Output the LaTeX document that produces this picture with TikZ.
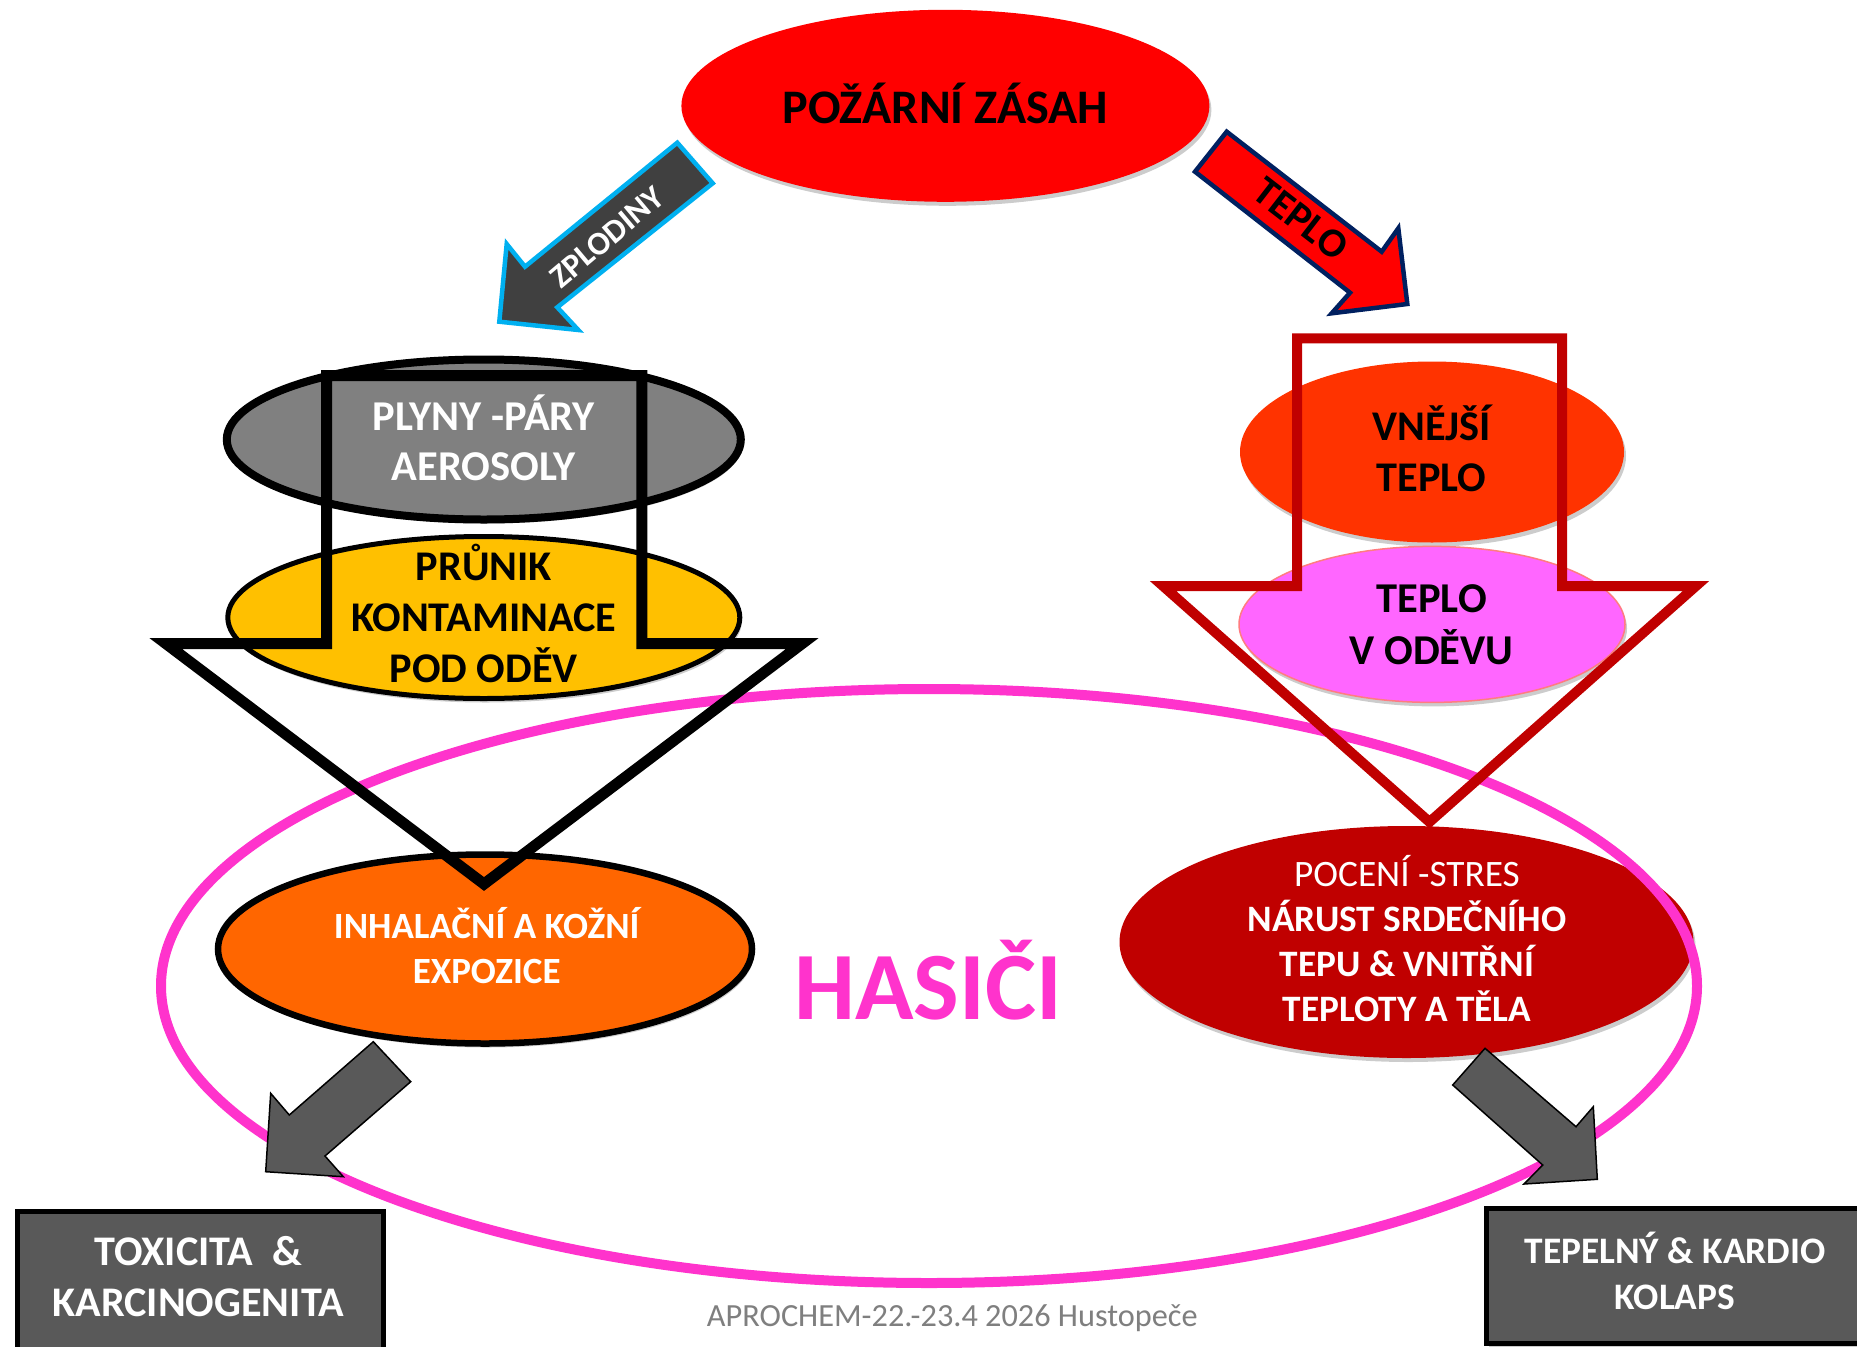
\documentclass[tikz,border=0pt]{standalone}
\usepackage{fontspec}
\setmainfont{Carlito}
\usetikzlibrary{shapes.geometric,shadows}
\definecolor{fire}{HTML}{FF0000}
\definecolor{dgray}{HTML}{404040}
\definecolor{cyanb}{HTML}{00B0F0}
\definecolor{navyb}{HTML}{002060}
\definecolor{midgray}{HTML}{808080}
\definecolor{amber}{HTML}{FFC000}
\definecolor{hotred}{HTML}{FF3300}
\definecolor{orchid}{HTML}{FF66FF}
\definecolor{salmon}{HTML}{FF7C80}
\definecolor{ringpink}{HTML}{FF33CC}
\definecolor{orng}{HTML}{FF6600}
\definecolor{darkred}{HTML}{C00000}
\definecolor{boxgray}{HTML}{595959}
\definecolor{foot}{HTML}{7F7F7F}
\begin{document}
\begin{tikzpicture}[x=1pt,y=-1pt,
  oval/.style={ellipse, inner sep=0pt, outer sep=0pt},
  shad/.style={drop shadow={shadow xshift=2pt, shadow yshift=-4pt, opacity=0.2, fill=black}},
  bl/.style={inner sep=0pt, anchor=base},
  tl/.style={inner sep=0pt, anchor=north, align=center},
  blockarrow/.style={line join=miter},
  hollow/.style={line join=miter, fill=none},
  smallarrow/.style={fill=boxgray, draw=black, line width=1.5pt, line join=miter},
  resultbox/.style={fill=boxgray, draw=black, line width=5pt, shad},
]
\useasboundingbox (0,0) rectangle (1857,1346);
\clip (0,0) rectangle (1857,1346);
\fill[white] (0,0) rectangle (1857,1346);

% ---------- top ellipse
\node[oval, shad, fill=fire, minimum width=528pt, minimum height=192pt] (zasah) at (945.4,105.8) {};

% ---------- ZPLODINY arrow
\draw[blockarrow, fill=dgray, draw=cyanb, line width=4.5pt]
  (677.3,142.7) -- (525,266.7) -- (506.7,244) -- (499.3,321.7) -- (578.3,330) -- (557.3,307.3) -- (712.7,183.3) -- cycle;
\node[font=\fontsize{33}{38}\selectfont\bfseries, text=white, rotate=40] (zplt) at (607,237) {ZPLODINY};

% ---------- TEPLO arrow
\draw[blockarrow, fill=fire, draw=navyb, line width=4.5pt]
  (1226.7,131.7) -- (1381.7,251.7) -- (1398.3,228.3) -- (1407.3,304) -- (1331.7,313.3) -- (1350,292.7) -- (1195,171.7) -- cycle;
\node[font=\fontsize{41}{48}\selectfont\bfseries, text=black, rotate=-37.7] (teplt) at (1301,219) {TEPLO};

% ---------- left column ellipses
\node[oval, shad, fill=midgray, draw=black, line width=8pt, minimum width=514pt, minimum height=160pt] (gases) at (483.8,439.5) {};
\node[oval, shad, fill=amber, draw=black, line width=5pt, minimum width=512pt, minimum height=162pt] (pruniki) at (483.8,617.5) {};

% ---------- right column ellipses
\node[oval, shad, fill=hotred, minimum width=384pt, minimum height=181pt] (vnejsi) at (1432,452) {};
\node[oval, shad, fill=orchid, draw=salmon, line width=1.5pt, minimum width=386pt, minimum height=156pt] (odev) at (1432,624.4) {};

% ---------- lower ellipses
\node[oval, shad, fill=orng, draw=black, line width=6.5pt, minimum width=534pt, minimum height=189pt] (inhal) at (485,949) {};
\node[oval, shad, fill=darkred, minimum width=574pt, minimum height=232pt] (poceni) at (1406.5,942) {};

% ---------- big pink ring
\node[oval, draw=ringpink, line width=10pt, minimum width=1536pt, minimum height=594pt] (hasici) at (929,986) {};

% ---------- hollow arrows
\draw[hollow, draw=black, line width=11pt]
  (326.6,375.7) -- (326.6,643.7) -- (166,643.7) -- (484,884) -- (802,643.7) -- (641.8,643.7) -- (641.8,375.7) -- cycle;
\draw[hollow, draw=darkred, line width=10pt]
  (1297,338.3) -- (1297,586) -- (1163,586) -- (1429.5,822) -- (1696,586) -- (1562,586) -- (1562,338.3) -- cycle;

% ---------- texts
\node[bl, font=\fontsize{48.2}{56}\selectfont\bfseries] (zasaht) at (945.4,123.3) {POŽÁRNÍ ZÁSAH};
\node[tl, font=\fontsize{42.5}{50.7}\selectfont\bfseries, text=white] (gasest) at (483.8,387.5) {\rule{0pt}{42.5pt}PLYNY -PÁRY\\AEROSOLY};
\node[tl, font=\fontsize{42.3}{51}\selectfont\bfseries, text=black] (prunikt) at (483.8,537.7) {\rule{0pt}{42.3pt}PRŮNIK\\KONTAMINACE\\POD ODĚV};
\node[tl, font=\fontsize{42.3}{51.7}\selectfont\bfseries, text=black] (vnejsit) at (1431.5,397.7) {\rule{0pt}{42.3pt}VNĚJŠÍ\\TEPLO};
\node[tl, font=\fontsize{42.5}{51.3}\selectfont\bfseries, text=black] (odevt) at (1431.6,570.2) {\rule{0pt}{42.5pt}TEPLO\\V ODĚVU};
\node[tl, font=\fontsize{37}{45}\selectfont\bfseries, text=white] (inhalt) at (486.7,901.3) {\rule{0pt}{37pt}INHALAČNÍ A KOŽNÍ\\EXPOZICE};
\node[tl, font=\fontsize{37.3}{45}\selectfont\bfseries, text=white] (pocenit) at (1407,849.4) {\rule{0pt}{37.3pt}{\mdseries POCENÍ -STRES}\\NÁRUST SRDEČNÍHO\\TEPU \& VNITŘNÍ\\TEPLOTY A TĚLA};
\node[bl, font=\fontsize{96.5}{110}\selectfont\bfseries, text=ringpink] (hasicit) at (928.3,1019.3) {HASIČI};

% ---------- small gray arrows
\draw[smallarrow]
  (373.3,1041.7) -- (289.3,1115) -- (270.7,1093.3) -- (265.7,1171.7) -- (343.3,1176.7) -- (325,1156) -- (410.7,1081.7) -- cycle;
\draw[smallarrow]
  (1485,1048.3) -- (1576,1126.7) -- (1593.3,1106.7) -- (1597.3,1179.3) -- (1524,1184) -- (1542.7,1165) -- (1452.7,1085) -- cycle;

% ---------- result boxes
\node[resultbox, anchor=north west, minimum width=366pt, minimum height=171pt] (toxbox) at (15,1209) {};
\node[resultbox, anchor=north west, minimum width=396pt, minimum height=135pt] (kolbox) at (1484,1206) {};
\node[tl, font=\fontsize{42.2}{51}\selectfont\bfseries, text=white] (toxt) at (198.3,1222.8) {\rule{0pt}{42.2pt}TOXICITA\ \ \&\\KARCINOGENITA};
\node[tl, font=\fontsize{37.4}{46}\selectfont\bfseries, text=white] (kolt) at (1675,1225.9) {\rule{0pt}{37.4pt}TEPELNÝ \& KARDIO\\KOLAPS};

% ---------- footer
\node[bl, font=\fontsize{32.3}{38}\selectfont, text=foot] (footer) at (952.3,1326.7) {APROCHEM-22.-23.4 2026 Hustopeče};
\end{tikzpicture}
\end{document}
